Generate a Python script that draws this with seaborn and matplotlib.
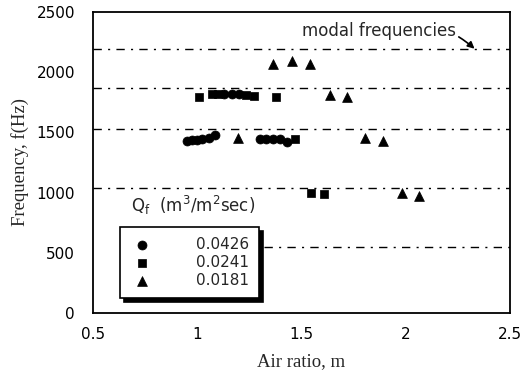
import matplotlib
matplotlib.use("Agg")
import matplotlib.pyplot as plt
import seaborn as sns
import pandas as pd
import numpy as np

# ---- data ----
x_0426 = [0.95, 0.975, 1.0, 1.025, 1.055, 1.085, 1.13, 1.165, 1.20, 1.30, 1.33, 1.365, 1.395, 1.43]
y_0426 = [1430, 1435, 1440, 1445, 1455, 1480, 1815, 1820, 1815, 1445, 1445, 1445, 1445, 1420]

x_0241 = [1.01, 1.07, 1.10, 1.235, 1.27, 1.38, 1.47, 1.545, 1.61]
y_0241 = [1790, 1815, 1820, 1810, 1805, 1795, 1445, 1000, 990]

x_0181 = [1.195, 1.365, 1.455, 1.54, 1.635, 1.72, 1.805, 1.89, 1.98, 2.065]
y_0181 = [1455, 2070, 2090, 2065, 1810, 1790, 1455, 1430, 995, 975]

series_labels = ["0.0426", "0.0241", "0.0181"]
modal_freqs = [2190, 1865, 1530, 1035, 550]
modal_x_start = [0.5, 0.5, 0.5, 0.5, 1.32]

x_ticks = [0.5, 1, 1.5, 2, 2.5]
x_ticklabels = ["0.5", "1", "1.5", "2", "2.5"]
y_ticks = [0, 500, 1000, 1500, 2000, 2500]

df = pd.DataFrame({
    "m": x_0426 + x_0241 + x_0181,
    "f": y_0426 + y_0241 + y_0181,
    "Q": [series_labels[0]] * len(x_0426) + [series_labels[1]] * len(x_0241) + [series_labels[2]] * len(x_0181),
})

sns.set_style("white")
plt.rcParams["font.family"] = ["DejaVu Sans"]
plt.rcParams["mathtext.default"] = "regular"

fig = plt.figure(figsize=(5.25, 3.78), dpi=100)
ax = fig.add_axes([93 / 525, 1 - 313 / 378, 417 / 525, 301 / 378])

# modal frequency lines
for yv, xs in zip(modal_freqs, modal_x_start):
    ax.plot([xs, 2.5], [yv, yv], color="black", lw=1.0,
            linestyle=(0, (6, 4.5, 1.5, 4.5)), zorder=1)

markers = {"0.0426": "o", "0.0241": "s", "0.0181": "^"}
sizes = {"0.0426": 42, "0.0241": 40, "0.0181": 50}
for lab in series_labels:
    sub = df[df["Q"] == lab]
    sns.scatterplot(data=sub, x="m", y="f", marker=markers[lab], s=sizes[lab],
                    color="black", edgecolor="black", linewidth=0.5,
                    ax=ax, label=lab, zorder=3)

ax.set_xlim(0.5, 2.5)
ax.set_ylim(0, 2500)
ax.set_xticks(x_ticks)
ax.set_xticklabels(x_ticklabels)
ax.set_yticks(y_ticks)
ax.tick_params(axis="both", length=0, labelsize=11, colors="black")
ax.tick_params(axis="y", pad=13)
ax.tick_params(axis="x", pad=10)

for sp in ax.spines.values():
    sp.set_visible(True)
    sp.set_color("black")
    sp.set_linewidth(1.3)

ax.set_xlabel("Air ratio, m", family="Liberation Serif", fontsize=13.5, labelpad=8)
ax.set_ylabel("Frequency, f(Hz)", family="Liberation Serif", fontsize=13.5, labelpad=5)

# annotation
ax.annotate("modal frequencies", xy=(2.33, 2195), xytext=(1.50, 2345),
            ha="left", va="center", fontsize=12,
            arrowprops=dict(arrowstyle="-|>", color="black", lw=1.2,
                            shrinkA=0, shrinkB=0, mutation_scale=10,
                            connectionstyle="arc3,rad=-0.3"))

# legend
ax.text(0.68, 895, r"Q$_{f}$  (m$^{3}$/m$^{2}$sec)", fontsize=12, va="center", ha="left")
leg = ax.legend(loc="lower left", bbox_to_anchor=(0.065, 0.05), bbox_transform=ax.transAxes,
                borderaxespad=0, fontsize=11, frameon=True, fancybox=False,
                framealpha=1, edgecolor="black", handlelength=1.6, handletextpad=2.7,
                borderpad=0.65, labelspacing=0.2,
                shadow={"ox": 3, "oy": -3, "facecolor": "black", "edgecolor": "black", "alpha": 1})
leg.get_frame().set_linewidth(1.2)
leg.set_zorder(5)

fig.savefig("out.png", dpi=100)
